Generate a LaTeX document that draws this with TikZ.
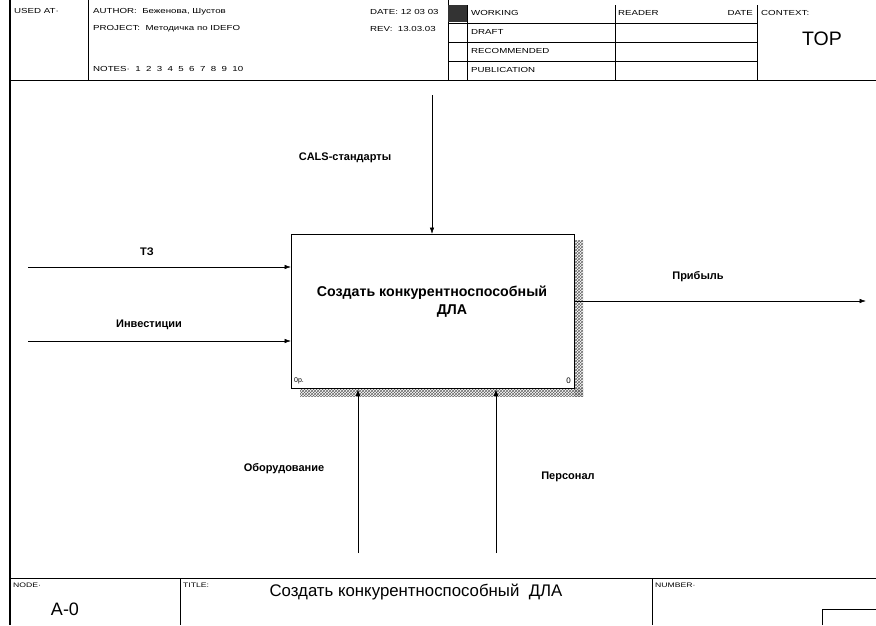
\documentclass[tikz,border=0pt]{standalone}
\usepackage{fontspec}
\setmainfont{Liberation Sans}
\newfontfamily\hdrfont[FakeStretch=1.33]{Liberation Sans}
\usetikzlibrary{arrows.meta,patterns}
\begin{document}
\begin{tikzpicture}[x=1pt,y=-1pt,
  frame/.style={line width=0.6pt},
  hdr/.style={font=\hdrfont\fontsize{7.3}{8}\selectfont, anchor=west, inner sep=0pt},
  smallhdr/.style={font=\hdrfont\fontsize{6.5}{7}\selectfont, anchor=west, inner sep=0pt},
  lbl/.style={font=\bfseries\fontsize{11}{12}\selectfont, inner sep=0pt},
  arr/.style={-{Latex[length=6.5pt,width=4.5pt]}, line width=0.6pt}]
\useasboundingbox (0,0) rectangle (876,625);
% frame
\draw[line width=2.4pt] (10,0) -- (10,625);
\draw[frame] (10,80) -- (876,80);
\draw[frame] (88,0) -- (88,80);
\draw[frame] (448,0) -- (448,80);
\draw[frame] (467,5) -- (467,80);
\draw[frame] (615,5) -- (615,80);
\draw[frame] (757,5) -- (757,80);
\draw[frame] (448,23) -- (757,23);
\draw[frame] (448,42) -- (757,42);
\draw[frame] (448,61) -- (757,61);
\fill[black!80] (448,5) rectangle (467,22);
% header texts
\node[hdr] (usedat) at (14,11) {USED AT\textperiodcentered};
\node[hdr] (author) at (93,12) {AUTHOR:\ \ Беженова, Шустов};
\node[hdr] (project) at (93,29) {PROJECT:\ \ Методичка по IDEFO};
\node[hdr] (notes) at (93,69) {NOTES\textperiodcentered\ \ 1\ \ 2\ \ 3\ \ 4\ \ 5\ \ 6\ \ 7\ \ 8\ \ 9\ \ 10};
\node[hdr] (date) at (370,12) {DATE: 12 03 03};
\node[hdr] (rev) at (370,29) {REV:\ \ 13.03.03};
\node[hdr] (working) at (471,13) {WORKING};
\node[hdr] (draft) at (471,32) {DRAFT};
\node[hdr] (recom) at (471,51) {RECOMMENDED};
\node[hdr] (publ) at (471,70) {PUBLICATION};
\node[hdr] (reader) at (618,13) {READER};
\node[hdr, anchor=east] (rdate) at (753,13) {DATE};
\node[hdr] (context) at (761,13) {CONTEXT:};
\node[font=\fontsize{19.5}{20}\selectfont, inner sep=0pt] (top) at (822,39) {TOP};
% shadow
\fill[pattern=crosshatch, pattern color=black!60] (574,240) rectangle (583,396);
\fill[pattern=crosshatch, pattern color=black!60] (300,388) rectangle (583,396);
% box
\node[draw, fill=white, line width=1.3pt, minimum width=283pt, minimum height=154pt, anchor=north west, inner sep=0pt] (box) at (291,234) {};
\node[font=\bfseries\fontsize{14.2}{18}\selectfont, align=center, inner sep=0pt] (boxtext) at (432,302) {Создать конкурентноспособный\\\hspace*{40pt}ДЛА};
\node[font=\fontsize{7}{8}\selectfont, anchor=south west, inner sep=0pt] (nr) at (294,384) {0р.};
\node[font=\fontsize{8}{9}\selectfont, anchor=south east, inner sep=0pt] (nn) at (571,384) {0};
% arrows
\coordinate (ctl) at (432,95);
\draw[arr] (ctl) -- (ctl |- box.north);
\node[lbl] (ctllbl) at (345,158) {CALS-стандарты};
\coordinate (in1) at (28,267);
\draw[arr] (in1) -- (in1 -| box.west);
\node[lbl] (in1lbl) at (147,252) {ТЗ};
\coordinate (in2) at (28,341);
\draw[arr] (in2) -- (in2 -| box.west);
\node[lbl] (in2lbl) at (149,325) {Инвестиции};
\coordinate (out1) at (866,301);
\draw[arr] (out1 -| box.east) -- (out1);
\node[lbl] (out1lbl) at (698,277) {Прибыль};
\coordinate (m1) at (358,553);
\draw[arr] (m1) -- (m1 |- box.south);
\node[lbl] (m1lbl) at (284,469) {Оборудование};
\coordinate (m2) at (496,553);
\draw[arr] (m2) -- (m2 |- box.south);
\node[lbl] (m2lbl) at (568,477) {Персонал};
% footer
\draw[frame] (10,578) -- (876,578);
\draw[frame] (180,578) -- (180,625);
\draw[frame] (652,578) -- (652,625);
\draw[frame] (822,625) -- (822,609) -- (876,609);
\node[smallhdr] (nodelbl) at (13,585) {NODE\textperiodcentered};
\node[smallhdr] (titlelbl) at (183,585) {TITLE:};
\node[smallhdr] (numlbl) at (655,585) {NUMBER\textperiodcentered};
\node[font=\fontsize{16.8}{18}\selectfont, inner sep=0pt] (title) at (416,592) {Создать конкурентноспособный\ \ ДЛА};
\node[font=\fontsize{18}{20}\selectfont, inner sep=0pt] (nodenum) at (65,609) {A-0};
\end{tikzpicture}
\end{document}
